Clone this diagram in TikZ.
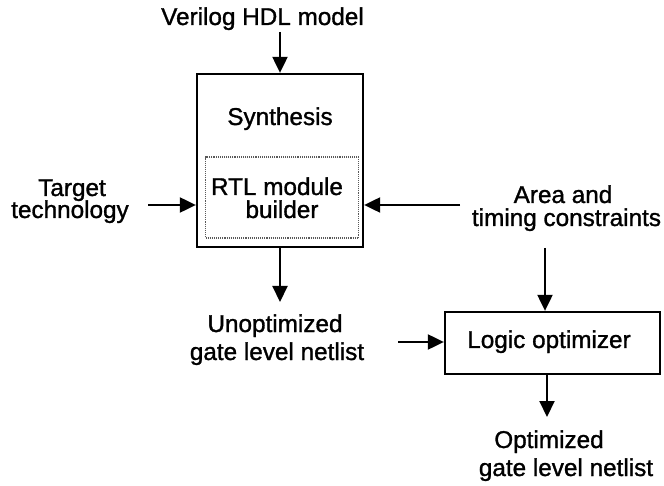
\documentclass[tikz,border=0pt]{standalone}
\usepackage{fontspec}
\setmainfont{Liberation Sans}[FakeBold=1.2]
\usetikzlibrary{arrows.meta}
\tikzset{
  lbl/.style={font=\fontsize{24.3}{28}\selectfont, inner sep=0pt, anchor=base},
  blk/.style={draw, line width=2.3pt, inner sep=0pt},
  rtlbox/.style={draw=black!65, line width=1.1pt, densely dotted, inner sep=0pt},
  flow/.style={line width=2.1pt, -{Triangle[length=16pt,width=15pt]}}
}
\begin{document}
\begin{tikzpicture}[x=1pt,y=-1pt]
  \useasboundingbox (0,0) rectangle (664,486);

  % synthesis block with its inner RTL builder
  \node[blk, minimum width=166pt, minimum height=173pt] (synth) at (280,160.5) {};
  \node[rtlbox, minimum width=153pt, minimum height=81pt] (rtl) at (282,197.5) {};
  \node[lbl] (synthlbl) at (280,125) {Synthesis};
  \node[lbl] (rtl1) at (277,195) {RTL module};
  \node[lbl] (rtl2) at (282,218) {builder};

  % logic optimizer block
  \node[blk, minimum width=215pt, minimum height=62pt] (lo) at (552.5,343) {};
  \node[lbl] (lolbl) at (549,348) {Logic optimizer};

  % input and output labels
  \node[lbl] (verilog) at (262.5,25) {Verilog HDL model};
  \node[lbl] (target1) at (72,196) {Target};
  \node[lbl] (target2) at (70,218) {technology};
  \node[lbl] (area1) at (563,203) {Area and};
  \node[lbl] (area2) at (566.5,226) {timing constraints};
  \node[lbl] (unopt1) at (275,332) {Unoptimized};
  \node[lbl] (unopt2) at (277,360) {gate level netlist};
  \node[lbl] (opt1) at (549,448) {Optimized};
  \node[lbl] (opt2) at (566,476) {gate level netlist};

  % free ends of the connectors
  \coordinate (vin) at (280,32);
  \coordinate (tin) at (148,205);
  \coordinate (ain) at (460,205);
  \coordinate (aout) at (545,248);
  \coordinate (uend) at (280,302);
  \coordinate (uin) at (398,342);
  \coordinate (oend) at (547,417);

  % connectors
  \draw[flow] (vin) -- (vin |- synth.north);
  \draw[flow] (tin) -- (tin -| synth.west);
  \draw[flow] (ain) -- (ain -| synth.east);
  \draw[flow] (synth.south) -- (uend);
  \draw[flow] (aout) -- (aout |- lo.north);
  \draw[flow] (uin) -- (uin -| lo.west);
  \draw[flow] (oend |- lo.south) -- (oend);
\end{tikzpicture}
\end{document}
